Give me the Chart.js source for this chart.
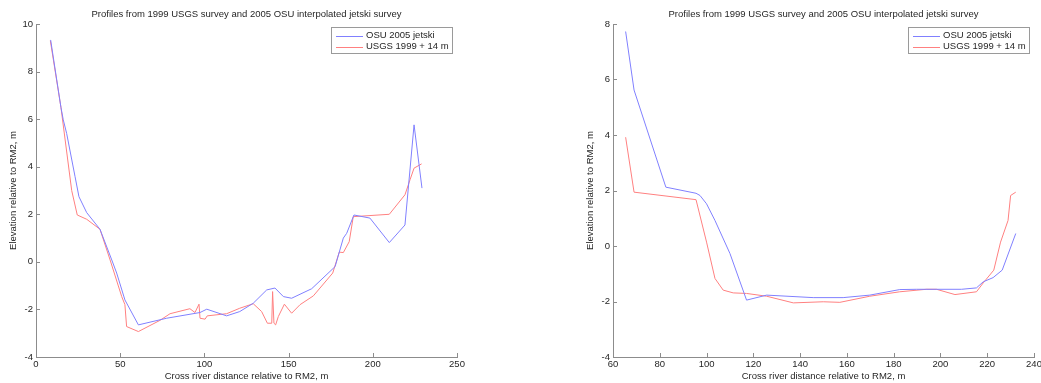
<!DOCTYPE html>
<html>
<head>
<meta charset="utf-8">
<script src="https://cdn.jsdelivr.net/npm/chart.js@4.4.1/dist/chart.umd.min.js"></script>
<style>
  body { margin: 0; background: #fff; width: 1041px; height: 383px; overflow: hidden; position: relative; }
  canvas { position: absolute; top: 0; }
  #leftChart { left: 0; }
  #rightChart { left: 577px; }
</style>
</head>
<body>
<canvas id="leftChart" width="480" height="383"></canvas>
<canvas id="rightChart" width="464" height="383"></canvas>
<script>
// left panel: OSU 2005 jetski profile
const leftOsuX = [8.7, 14.8, 16.2, 18.2, 23.2, 25.5, 30.1, 38, 45, 47.9, 52.8, 60.8, 77.6, 97.4, 101.4, 113.2, 121, 129, 137, 141.9, 146.9, 151.8, 163.7, 177.6, 182.5, 184.5, 188.8, 198.3, 209.8, 219.1, 224.5, 229.2];
const leftOsuY = [9.33, 6.5, 5.97, 5.4, 3.58, 2.74, 2.07, 1.37, 0.08, -0.47, -1.6, -2.65, -2.37, -2.13, -1.99, -2.27, -2.09, -1.74, -1.18, -1.1, -1.46, -1.53, -1.13, -0.2, 1.0, 1.2, 1.97, 1.84, 0.81, 1.55, 5.76, 3.1];
// left panel: USGS 1999 + 14 m
const leftUsgsX = [8.5, 14.8, 21.2, 24.5, 30.1, 38, 44, 50.9, 52.8, 53.8, 60.8, 73.6, 79.6, 91.4, 94.4, 96.8, 97.4, 100.4, 101.7, 113.2, 121, 129, 134, 137.4, 140, 140.5, 141.3, 142.3, 143.9, 147.5, 151.8, 156.8, 164.7, 176.2, 180.1, 182.5, 186, 188.4, 209.8, 219.1, 222.1, 224.5, 229];
const leftUsgsY = [9.3, 6.5, 3.0, 1.97, 1.79, 1.37, 0.08, -1.46, -1.8, -2.72, -2.93, -2.46, -2.18, -1.97, -2.13, -1.78, -2.37, -2.41, -2.27, -2.18, -1.95, -1.76, -2.09, -2.58, -2.58, -1.25, -2.58, -2.65, -2.3, -1.78, -2.16, -1.8, -1.43, -0.47, 0.41, 0.39, 0.85, 1.9, 2.0, 2.82, 3.45, 3.94, 4.12];

// right panel
const rightOsuX = [65.4, 69, 82.6, 95.5, 97.2, 100, 103.6, 110, 117.1, 125.7, 145.6, 158.4, 169.8, 182.6, 189.8, 209, 215.4, 218.3, 222.5, 226.4, 232.2];
const rightOsuY = [7.73, 5.62, 2.12, 1.9, 1.82, 1.52, 0.92, -0.27, -1.95, -1.77, -1.86, -1.86, -1.77, -1.57, -1.56, -1.56, -1.51, -1.29, -1.14, -0.87, 0.45];
const rightUsgsX = [65.4, 69, 95.5, 100, 103.6, 107.1, 111.4, 117.1, 125.7, 137.1, 149.9, 157, 169.8, 182.6, 194, 198.3, 206.2, 215.4, 218.3, 222.8, 225.7, 228.9, 230, 232.2];
const rightUsgsY = [3.92, 1.94, 1.67, 0.14, -1.17, -1.59, -1.69, -1.71, -1.81, -2.05, -2.01, -2.03, -1.81, -1.65, -1.56, -1.56, -1.75, -1.65, -1.33, -0.87, 0.14, 0.92, 1.82, 1.94];

const seriesNames = ["OSU 2005 jetski", "USGS 1999 + 14 m"];
const chartTitle = "Profiles from 1999 USGS survey and 2005 OSU interpolated jetski survey";
const xTitle = "Cross river distance relative to RM2, m";
const yTitle = "Elevation relative to RM2, m";

const FONT = "'Liberation Sans', Arial, sans-serif";
const FSIZE = 9.5;
const BLUE = "#8080ff";
const RED = "#ff8080";
const AXIS = "#8c8c8c";
const TEXT = "#262626";

function toPoints(xs, ys) {
    return xs.map((x, i) => ({ x: x, y: ys[i] }));
}

// title centred over the plot area
const titlePlugin = {
    id: "plotTitle",
    afterDraw(chart) {
        const ctx = chart.ctx;
        const a = chart.chartArea;
        ctx.save();
        ctx.font = FSIZE + "px " + FONT;
        ctx.fillStyle = TEXT;
        ctx.textAlign = "center";
        ctx.textBaseline = "middle";
        ctx.fillText(chartTitle, (a.left + a.right) / 2, 14);
        ctx.restore();
    }
};

// matlab style inward tick marks
const tickPlugin = {
    id: "inTicks",
    afterDraw(chart) {
        const ctx = chart.ctx;
        const a = chart.chartArea;
        ctx.save();
        ctx.strokeStyle = AXIS;
        ctx.lineWidth = 1;
        ctx.beginPath();
        chart.scales.x.ticks.forEach(t => {
            const px = Math.round(chart.scales.x.getPixelForValue(t.value)) + 0.5;
            ctx.moveTo(px, a.bottom);
            ctx.lineTo(px, a.bottom - 4);
        });
        chart.scales.y.ticks.forEach(t => {
            const py = Math.round(chart.scales.y.getPixelForValue(t.value)) + 0.5;
            ctx.moveTo(a.left, py);
            ctx.lineTo(a.left + 4, py);
        });
        ctx.stroke();
        ctx.restore();
    }
};

// boxed legend in the top right corner of the plot
const legendPlugin = {
    id: "boxLegend",
    afterDraw(chart) {
        const ctx = chart.ctx;
        const a = chart.chartArea;
        const w = 121, h = 26;
        const x0 = a.right - 5 - w, y0 = a.top + 3;
        ctx.save();
        ctx.fillStyle = "#fff";
        ctx.fillRect(x0, y0, w, h);
        ctx.strokeStyle = "#9a9a9a";
        ctx.lineWidth = 1;
        ctx.strokeRect(x0 + 0.5, y0 + 0.5, w, h);
        ctx.font = FSIZE + "px " + FONT;
        ctx.textBaseline = "middle";
        chart.data.datasets.forEach((ds, i) => {
            const y = y0 + 8.5 + i * 11;
            ctx.strokeStyle = ds.borderColor;
            ctx.beginPath();
            ctx.moveTo(x0 + 5, Math.round(y) + 0.5);
            ctx.lineTo(x0 + 32, Math.round(y) + 0.5);
            ctx.stroke();
            ctx.fillStyle = TEXT;
            ctx.fillText(ds.label, x0 + 35, y);
        });
        ctx.restore();
    }
};

function makeChart(id, osu, usgs, xr, yr, padRight) {
    return new Chart(document.getElementById(id), {
        type: "line",
        data: {
            datasets: [
                { label: seriesNames[0], data: osu, borderColor: BLUE, borderWidth: 1, pointRadius: 0, tension: 0 },
                { label: seriesNames[1], data: usgs, borderColor: RED, borderWidth: 1, pointRadius: 0, tension: 0 }
            ]
        },
        options: {
            responsive: false,
            animation: false,
            layout: { padding: { top: 24, right: padRight, left: 0, bottom: 0 } },
            plugins: { legend: { display: false }, title: { display: false }, tooltip: { enabled: false } },
            scales: {
                x: {
                    type: "linear",
                    min: xr[0], max: xr[1],
                    ticks: { stepSize: xr[2], color: TEXT, font: { family: FONT, size: FSIZE }, padding: 2, maxRotation: 0 },
                    grid: { drawOnChartArea: false, drawTicks: false },
                    border: { color: AXIS },
                    title: { display: true, text: xTitle, color: TEXT, font: { family: FONT, size: FSIZE }, padding: { top: 0, bottom: 1 } },
                    afterFit(s) { s.height = 26; s.paddingLeft = 0; s.paddingRight = 0; }
                },
                y: {
                    min: yr[0], max: yr[1],
                    ticks: { stepSize: yr[2], color: TEXT, font: { family: FONT, size: FSIZE }, padding: 3 },
                    grid: { drawOnChartArea: false, drawTicks: false },
                    border: { color: AXIS },
                    title: { display: true, text: yTitle, color: TEXT, font: { family: FONT, size: FSIZE }, padding: { top: 8, bottom: 8 } },
                    afterFit(s) { s.width = 36; s.paddingTop = 0; s.paddingBottom = 0; }
                }
            }
        },
        plugins: [titlePlugin, tickPlugin, legendPlugin]
    });
}

makeChart("leftChart", toPoints(leftOsuX, leftOsuY), toPoints(leftUsgsX, leftUsgsY), [0, 250, 50], [-4, 10, 2], 23);
makeChart("rightChart", toPoints(rightOsuX, rightOsuY), toPoints(rightUsgsX, rightUsgsY), [60, 240, 20], [-4, 8, 2], 7);
</script>
</body>
</html>
